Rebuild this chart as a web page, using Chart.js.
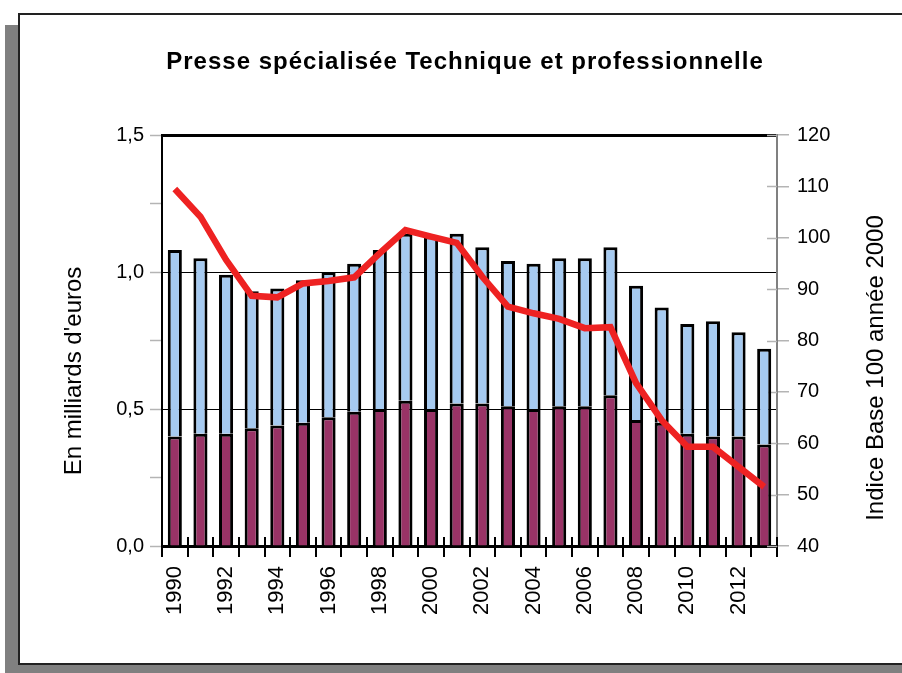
<!DOCTYPE html>
<html><head><meta charset="utf-8">
<script src="https://cdn.jsdelivr.net/npm/chart.js@4.4.0/dist/chart.umd.min.js"></script>
<style>
html,body{margin:0;padding:0;background:#fff;width:902px;height:673px;overflow:hidden;}
#frame{position:absolute;left:18px;top:13px;width:900px;height:648px;border:2px solid #222;background:#fff;box-shadow:-13px 12px 0 #808080;}
#c{position:absolute;left:0;top:0;}
</style></head><body>
<div id="frame"></div>
<canvas id="c" width="902" height="673"></canvas>
<script>
const chartTitle = "Presse spécialisée Technique et professionnelle";
const leftTitle = "En milliards d'euros";
const rightTitle = "Indice Base 100 année 2000";
const years = ['1990','1991','1992','1993','1994','1995','1996','1997','1998','1999','2000','2001','2002','2003','2004','2005','2006','2007','2008','2009','2010','2011','2012','2013'];
const purpleVals = [0.40,0.41,0.41,0.43,0.44,0.45,0.47,0.49,0.50,0.53,0.50,0.52,0.52,0.51,0.50,0.51,0.51,0.55,0.46,0.45,0.41,0.40,0.40,0.37];
const blueVals   = [0.68,0.64,0.58,0.50,0.50,0.52,0.53,0.54,0.58,0.61,0.63,0.62,0.57,0.53,0.53,0.54,0.54,0.54,0.49,0.42,0.40,0.42,0.38,0.35];
const indexVals  = [109.5,104.1,95.7,88.7,88.4,91.1,91.6,92.3,97.0,101.5,100.2,99.0,92.4,86.6,85.3,84.2,82.4,82.6,71.7,64.5,59.3,59.3,55.4,51.5];

const FONT = 'Liberation Sans';

const extras = {
  id: 'extras',
  beforeDatasetsDraw(chart) {
    const { ctx, chartArea, scales: { x, y1 } } = chart;
    ctx.save();
    ctx.strokeStyle = '#000';
    ctx.lineWidth = 2;
    const step = x.getPixelForTick(1) - x.getPixelForTick(0);
    const first = x.getPixelForTick(0) - step / 2;
    ctx.beginPath();
    for (let i = 0; i <= years.length; i++) {
      const px = Math.round(first + i * step);
      ctx.moveTo(px, chartArea.bottom - 9);
      ctx.lineTo(px, chartArea.bottom);
    }
    ctx.stroke();
    ctx.strokeStyle = '#b4b4b4';
    ctx.lineWidth = 1.5;
    ctx.beginPath();
    y1.ticks.forEach((t, i) => {
      const py = Math.round(y1.getPixelForTick(i)) + 0.5;
      ctx.moveTo(chartArea.right - 10, py);
      ctx.lineTo(chartArea.right, py);
    });
    ctx.stroke();
    ctx.restore();
  },
  afterDraw(chart) {
    const { ctx } = chart;
    ctx.save();
    ctx.fillStyle = '#000';
    ctx.textAlign = 'center';
    ctx.textBaseline = 'middle';
    ctx.font = 'bold 24px "' + FONT + '"';
    try { ctx.letterSpacing = '1px'; } catch (e) {}
    ctx.fillText(chartTitle, 465, 62);
    try { ctx.letterSpacing = '0px'; } catch (e) {}
    ctx.font = '24px "' + FONT + '"';
    ctx.save();
    ctx.translate(74, 371);
    ctx.rotate(-Math.PI / 2);
    ctx.fillText(leftTitle, 0, 0);
    ctx.restore();
    ctx.save();
    ctx.translate(876, 368);
    ctx.rotate(-Math.PI / 2);
    ctx.fillText(rightTitle, 0, 0);
    ctx.restore();
    ctx.restore();
  }
};

new Chart(document.getElementById('c'), {
  data: {
    labels: years,
    datasets: [
      { type: 'line', data: indexVals, yAxisID: 'y1', borderColor: '#EE2222', borderWidth: 6.5,
        pointRadius: 0, tension: 0, order: 0, fill: false },
      { type: 'bar', data: purpleVals, yAxisID: 'y', backgroundColor: '#993366', borderColor: '#000',
        borderWidth: 3, stack: 's', order: 2, barPercentage: 0.55, categoryPercentage: 1 },
      { type: 'bar', data: blueVals, yAxisID: 'y', backgroundColor: '#A6CAF0', borderColor: '#000',
        borderWidth: 3, stack: 's', order: 2, barPercentage: 0.55, categoryPercentage: 1 }
    ]
  },
  options: {
    responsive: false,
    animation: false,
    devicePixelRatio: 1,
    layout: { padding: { top: 135, left: 0, right: 0, bottom: 0 } },
    plugins: { legend: { display: false }, tooltip: { enabled: false }, title: { display: false } },
    scales: {
      x: {
        stacked: true,
        offset: true,
        afterFit(s) { s.height = 127; },
        grid: { offset: true, drawOnChartArea: false, color: '#000', lineWidth: 2, tickLength: 11 },
        border: { color: '#000', width: 3 },
        ticks: {
          autoSkip: false, maxRotation: 90, minRotation: 90, padding: 9, color: '#000',
          font: { family: FONT, size: 22 },
          callback: (v, i) => (i % 2 === 0 ? years[i] : '')
        }
      },
      y: {
        position: 'left',
        stacked: true,
        min: 0, max: 1.5,
        afterFit(s) { s.width = 162; },
        grid: {
          color: c => (c.tick && [0.5, 1, 1.5].includes(Math.round(c.tick.value * 100) / 100)) ? '#000' : 'rgba(0,0,0,0)',
          lineWidth: c => (c.tick && Math.abs(c.tick.value - 1.5) < 1e-9) ? 3 : 1,
          tickColor: '#b4b4b4', tickWidth: 1.5, tickLength: 12
        },
        border: { color: '#000', width: 2 },
        ticks: {
          stepSize: 0.25, padding: 6, color: '#000', font: { family: FONT, size: 20 },
          callback: v => (Math.abs(v * 2 - Math.round(v * 2)) < 1e-9) ? v.toFixed(1).replace('.', ',') : ''
        }
      },
      y1: {
        position: 'right',
        min: 40, max: 120,
        afterFit(s) { s.width = 125; },
        grid: { drawOnChartArea: false, color: '#b4b4b4', lineWidth: 1.5, tickLength: 12 },
        border: { color: '#808080', width: 2 },
        ticks: { stepSize: 10, padding: 8, color: '#000', font: { family: FONT, size: 20 } }
      }
    }
  },
  plugins: [extras]
});
</script></body></html>
